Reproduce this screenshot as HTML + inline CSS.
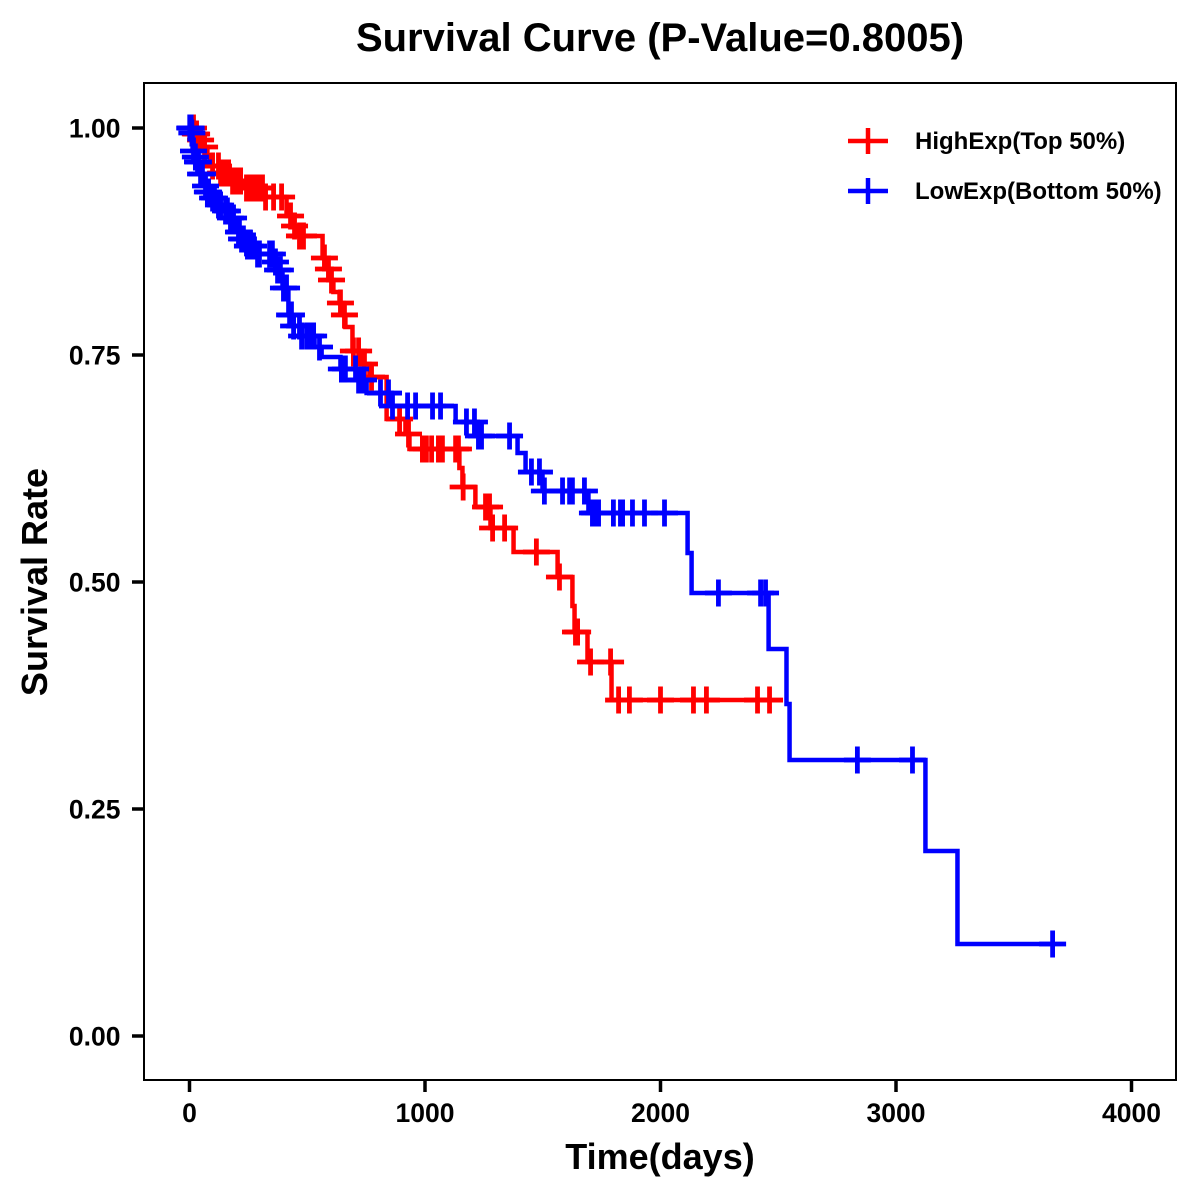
<!DOCTYPE html>
<html>
<head>
<meta charset="utf-8">
<style>
html,body{margin:0;padding:0;background:#fff;}
svg{display:block;}
text{font-family:"Liberation Sans",Arial,sans-serif;font-weight:bold;fill:#000;}
</style>
</head>
<body>
<svg id="chart" xmlns="http://www.w3.org/2000/svg" width="1200" height="1200" viewBox="0 0 1200 1200">
<rect x="0" y="0" width="1200" height="1200" fill="#fff"/>
<text x="660" y="51" font-size="40" text-anchor="middle">Survival Curve (P-Value=0.8005)</text>
<g id="series"></g>
<rect x="144" y="83" width="1032" height="997" fill="none" stroke="#000" stroke-width="2"/>
<g id="axes"></g>
<text x="660" y="1169" font-size="36" text-anchor="middle">Time(days)</text>
<text x="0" y="0" font-size="36" text-anchor="middle" transform="translate(47,582) rotate(-90)">Survival Rate</text>
<g>
<g>
<line x1="848" x2="888" y1="141" y2="141" stroke="#f00" stroke-width="4.5"/>
<line x1="868" x2="868" y1="128" y2="154" stroke="#f00" stroke-width="4.5"/>
<text x="915" y="149" font-size="24">HighExp(Top 50%)</text>
</g>
<g>
<line x1="848" x2="888" y1="191" y2="191" stroke="#00f" stroke-width="4.5"/>
<line x1="868" x2="868" y1="178" y2="204" stroke="#00f" stroke-width="4.5"/>
<text x="915" y="199" font-size="24">LowExp(Bottom 50%)</text>
</g>
</g>
</svg>
<script>
var xTicks = [0, 1000, 2000, 3000, 4000];
var yTicks = [0, 0.25, 0.5, 0.75, 1];
var yTickLabels = ["0.00", "0.25", "0.50", "0.75", "1.00"];

var highTimes = [0, 21, 38, 55, 76, 89, 127, 174, 229, 318, 412, 437, 459, 565, 582, 599, 611, 637, 654, 662, 692, 730, 764, 837, 917, 934, 1146, 1159, 1214, 1278, 1376, 1563, 1626, 1635, 1690, 1792];
var highSurv = [1, 0.9934, 0.9868, 0.9791, 0.9703, 0.9581, 0.9504, 0.9416, 0.9339, 0.924, 0.9031, 0.8921, 0.8811, 0.8568, 0.8447, 0.8326, 0.8194, 0.8073, 0.7941, 0.7808, 0.7544, 0.7401, 0.7258, 0.6795, 0.663, 0.6465, 0.6256, 0.6046, 0.5826, 0.5595, 0.533, 0.5055, 0.4736, 0.4449, 0.4119, 0.37];
var highCensor = [4, 17, 25, 30, 47, 64, 98, 123, 132, 149, 166, 183, 200, 217, 242, 259, 276, 293, 310, 323, 357, 391, 429, 446, 467, 484, 573, 590, 603, 641, 658, 696, 718, 743, 773, 892, 930, 989, 1006, 1028, 1057, 1074, 1130, 1142, 1162, 1257, 1274, 1287, 1338, 1473, 1571, 1639, 1648, 1703, 1788, 1822, 1868, 2000, 2140, 2195, 2412, 2463];

var lowTimes = [0, 8, 13, 21, 30, 42, 64, 72, 89, 115, 144, 166, 204, 217, 242, 284, 357, 369, 395, 420, 437, 471, 531, 561, 641, 709, 752, 854, 1130, 1223, 1393, 1427, 1499, 1694, 2115, 2132, 2459, 2535, 2548, 3125, 3261];
var lowSurv = [1, 0.9945, 0.9747, 0.9681, 0.9626, 0.9493, 0.9361, 0.9295, 0.9229, 0.9152, 0.9086, 0.9009, 0.8855, 0.8778, 0.87, 0.8612, 0.8524, 0.8436, 0.8238, 0.7941, 0.7819, 0.7709, 0.7588, 0.7478, 0.7346, 0.7225, 0.7081, 0.6938, 0.6762, 0.6608, 0.6421, 0.6211, 0.6002, 0.576, 0.5319, 0.4879, 0.4262, 0.3656, 0.304, 0.2037, 0.1013];
var lowCensor = [1, 4, 7, 10, 17, 25, 34, 38, 47, 55, 68, 76, 81, 98, 106, 123, 132, 153, 161, 174, 187, 208, 212, 221, 229, 246, 259, 272, 289, 297, 340, 352, 365, 374, 386, 399, 412, 425, 433, 442, 467, 476, 497, 514, 527, 552, 645, 662, 705, 718, 730, 739, 811, 845, 862, 926, 960, 1032, 1066, 1176, 1210, 1227, 1240, 1359, 1452, 1486, 1507, 1584, 1614, 1626, 1677, 1711, 1720, 1737, 1800, 1830, 1839, 1881, 1932, 2017, 2246, 2425, 2446, 2836, 3070, 3665];

var NS = "http://www.w3.org/2000/svg";
function xScale(t) { return 189.5 + t * 0.2355; }
function yScale(s) { return 1036 - s * 908; }
function survivalAt(times, surv, t) {
  var v = surv[0];
  for (var i = 0; i < times.length; i++) { if (times[i] <= t) v = surv[i]; }
  return v;
}
function make(tag, attrs) {
  var el = document.createElementNS(NS, tag);
  for (var k in attrs) el.setAttribute(k, attrs[k]);
  return el;
}
var axes = document.getElementById("axes");
xTicks.forEach(function (t) {
  var tick = make("line", {x1: xScale(t), x2: xScale(t), y1: 1081, y2: 1092, stroke: "#000", "stroke-width": 3.5});
  
  
  axes.appendChild(tick);
  var lab = make("text", {x: xScale(t), y: 1122, "font-size": 26.5, "text-anchor": "middle"});
  
  
  lab.textContent = String(t);
  axes.appendChild(lab);
});
yTicks.forEach(function (s, i) {
  var tick = make("line", {x1: 132, x2: 143, y1: yScale(s), y2: yScale(s), stroke: "#000", "stroke-width": 3.5});
  
  
  axes.appendChild(tick);
  var lab = make("text", {x: 120.5, y: yScale(s) + 9.5, "font-size": 26.5, "text-anchor": "end"});
  
  
  lab.textContent = yTickLabels[i];
  axes.appendChild(lab);
});
function drawSeries(times, surv, censor, color) {
  var root = document.getElementById("series");
  var g = make("g", {});
  
  
  root.appendChild(g);
  var lastT = Math.max(times[times.length - 1], censor[censor.length - 1]);
  var d = "M" + xScale(times[0]) + " " + yScale(surv[0]);
  for (var i = 1; i < times.length; i++) {
    d += "H" + xScale(times[i]) + "V" + yScale(surv[i]);
  }
  d += "H" + xScale(lastT);
  var path = make("path", {d: d, fill: "none", stroke: color, "stroke-width": 4.5, "stroke-linejoin": "miter"});
  
  
  g.appendChild(path);
  censor.forEach(function (t) {
    var cx = xScale(t);
    var cy = yScale(survivalAt(times, surv, t));
    var mark = make("path", {d: "M" + (cx - 13.5) + " " + cy + "H" + (cx + 13.5) + "M" + cx + " " + (cy - 13.5) + "V" + (cy + 13.5), fill: "none", stroke: color, "stroke-width": 4.8});
    
    
    g.appendChild(mark);
  });
}
drawSeries(highTimes, highSurv, highCensor, "#ff0000");
drawSeries(lowTimes, lowSurv, lowCensor, "#0000ff");
</script>
</body>
</html>
